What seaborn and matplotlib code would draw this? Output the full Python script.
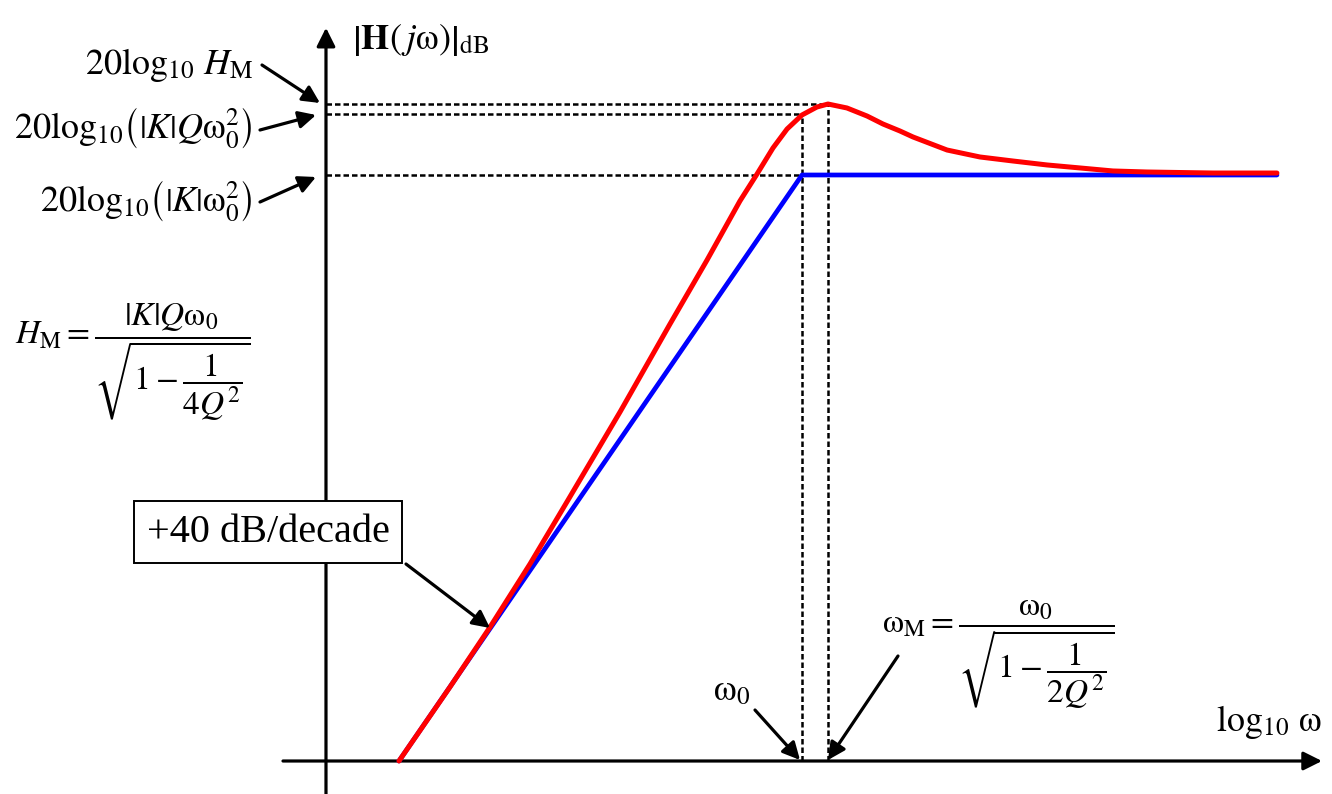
import matplotlib
matplotlib.use("Agg")
import matplotlib.pyplot as plt
import matplotlib.patches as mpatches
import seaborn as sns

# ---------------- data (x = log10 omega, arbitrary decades; y = dB) ----------------
log_w_asym = [0.0, 2.0, 4.357]
db_asym = [0.0, 80.0, 80.0]

log_w_actual = [0.0, 0.253, 0.452, 0.650, 0.839, 1.097, 1.345, 1.529, 1.692, 1.777,
                1.856, 1.926, 2.000, 2.074, 2.129, 2.223, 2.323, 2.402, 2.486, 2.551,
                2.720, 2.883, 3.047, 3.216, 3.380, 3.543, 3.712, 4.040, 4.357]
db_actual = [0.0, 10.10, 18.29, 26.89, 35.63, 47.65, 59.66, 68.40, 76.45, 80.14,
             83.69, 86.28, 88.19, 89.28, 89.69, 89.15, 88.05, 86.96, 86.01, 85.19,
             83.41, 82.46, 81.91, 81.37, 80.96, 80.55, 80.41, 80.27, 80.27]

w0_log = 2.0        # corner frequency
wM_log = 2.129      # peak frequency
db_corner = 80.0    # 20log10(|K| w0^2)
db_Q = 88.33        # 20log10(|K| Q w0^2)
db_peak = 89.69     # 20log10(H_M)

# ---------------- figure ----------------
W, H = 1332, 794
sns.set_theme(style="white")
plt.rcParams["font.family"] = ["Liberation Serif", "DejaVu Serif"]
plt.rcParams["mathtext.fontset"] = "stix"
plt.rcParams["text.color"] = "black"

fig = plt.figure(figsize=(W / 100, H / 100), dpi=100)
ax = fig.add_axes([0, 0, 1, 1])
ax.set_xlim(-1.9801, 4.6303)
ax.set_ylim(-4.505, 103.89)
ax.axis("off")

def P(x, y):
    return (x / W, 1 - y / H)

y_axis_x = -0.3623

# axes with arrows
ax.annotate("", xy=(y_axis_x, 100.1), xytext=(y_axis_x, -4.6),
            arrowprops=dict(arrowstyle="-|>", color="black", lw=2.3, mutation_scale=28,
                            shrinkA=0, shrinkB=0))
ax.annotate("", xy=(4.5806, 0), xytext=(-0.5757, 0),
            arrowprops=dict(arrowstyle="-|>", color="black", lw=2.3, mutation_scale=28,
                            shrinkA=0, shrinkB=0))

# dashed guide lines
dash = dict(color="black", lw=1.8, linestyle=(0, (2.2, 1.2)), zorder=2)
ax.plot([y_axis_x, wM_log], [db_peak, db_peak], **dash)
ax.plot([y_axis_x, w0_log], [db_Q, db_Q], **dash)
ax.plot([y_axis_x, w0_log], [db_corner, db_corner], **dash)
ax.plot([w0_log, w0_log], [0, db_Q], **dash)
ax.plot([wM_log, wM_log], [0, db_peak], **dash)

# curves
sns.lineplot(x=log_w_asym, y=db_asym, ax=ax, color="#0000FF", lw=3.4, zorder=3)
sns.lineplot(x=log_w_actual, y=db_actual, ax=ax, color="#FF0000", lw=3.6, zorder=4)

FS = 26
FS_FRAC = 24

# texts
fig.text(*P(352, 40), r"$\left|\mathbf{H}(\,j\mathrm{\omega})\right|_{\mathrm{dB}}$",
         fontsize=FS, ha="left", va="center")
fig.text(*P(253, 74), r"$20\log_{10}\,H_{\mathrm{M}}$", fontsize=FS, ha="right", va="baseline")
fig.text(*P(253, 138), r"$20\log_{10}\!\left(\left|K\right|Q\mathrm{\omega}_0^2\right)$",
         fontsize=FS, ha="right", va="baseline")
fig.text(*P(253, 211), r"$20\log_{10}\!\left(\left|K\right|\mathrm{\omega}_0^2\right)$",
         fontsize=FS, ha="right", va="baseline")
fig.text(*P(15, 362), r"$H_{\mathrm{M}} = \dfrac{|K|Q\mathrm{\omega}_0}{\sqrt{1-\dfrac{1}{4Q^2}}}$",
         fontsize=FS_FRAC, ha="left", va="center")
fig.text(*P(732, 692), r"$\mathrm{\omega}_0$", fontsize=FS, ha="center", va="center")
fig.text(*P(882, 655), r"$\mathrm{\omega}_{\mathrm{M}} = \dfrac{\mathrm{\omega}_0}{\sqrt{1-\dfrac{1}{2Q^2}}}$",
         fontsize=FS_FRAC, ha="left", va="center")
fig.text(*P(1269, 722), r"$\log_{10}\,\mathrm{\omega}$", fontsize=FS, ha="center", va="center")

fig.text(*P(268, 532), "+40 dB/decade", fontsize=29, ha="center", va="center", zorder=10,
         bbox=dict(boxstyle="square,pad=0.32", fc="white", ec="black", lw=1.4))

# pointer arrows
arrow_kw = dict(arrowstyle="-|>", color="black", lw=2.3, mutation_scale=26, shrinkA=0, shrinkB=0)
for (x0, y0), (x1, y1) in [((262, 65), (320, 103)), ((260, 130), (316, 115)),
                           ((260, 202), (316, 177)), ((406, 564), (490, 628)),
                           ((755, 710), (800, 760)), ((898, 656), (828, 760))]:
    fig.add_artist(mpatches.FancyArrowPatch(P(x0, y0), P(x1, y1),
                                            transform=fig.transFigure, **arrow_kw))

fig.savefig("out.png", dpi=100, facecolor="white")
